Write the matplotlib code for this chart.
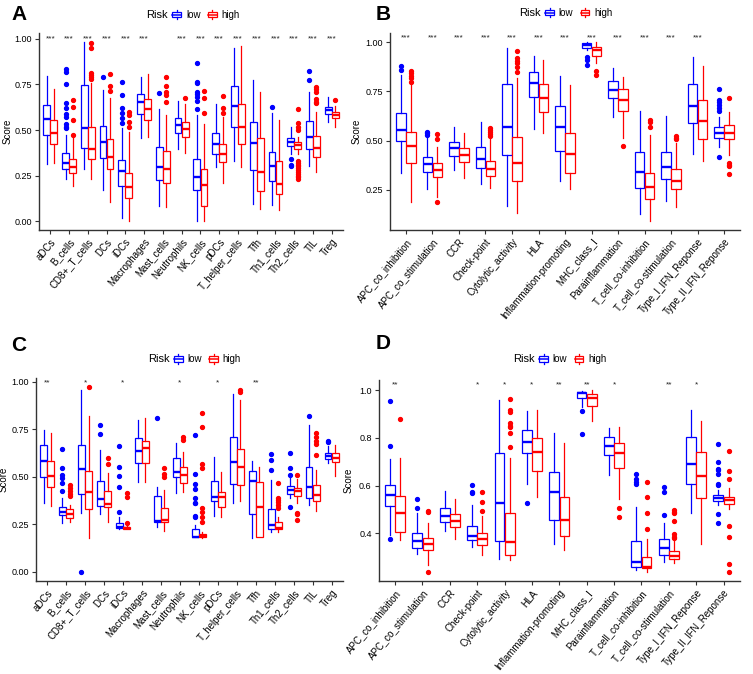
import numpy as np
import matplotlib
matplotlib.use("Agg")
import matplotlib.pyplot as plt
from matplotlib.patches import Patch, Rectangle
from matplotlib.lines import Line2D
from matplotlib.legend_handler import HandlerBase

plt.rcParams["font.family"] = ["Liberation Sans", "DejaVu Sans"]

BLUE = "#0000FF"
RED = "#FF0000"

# -----------------------------
# data: per category [whislo, q1, median, q3, whishi] + outliers
# -----------------------------
cells = ["aDCs", "B_cells", "CD8+_T_cells", "DCs", "iDCs", "Macrophages", "Mast_cells",
         "Neutrophils", "NK_cells", "pDCs", "T_helper_cells", "Tfh", "Th1_cells",
         "Th2_cells", "TIL", "Treg"]
functions = ["APC_co_inhibition", "APC_co_stimulation", "CCR", "Check-point",
             "Cytolytic_activity", "HLA", "Inflammation-promoting", "MHC_class_I",
             "Parainflammation", "T_cell_co-inhibition", "T_cell_co-stimulation",
             "Type_I_IFN_Reponse", "Type_II_IFN_Reponse"]

A_low = [
    [0.311, 0.471, 0.559, 0.640, 0.797],
    [0.233, 0.286, 0.317, 0.372, 0.473],
    [0.286, 0.403, 0.509, 0.749, 0.985],
    [0.170, 0.348, 0.436, 0.524, 0.720],
    [0.015, 0.194, 0.277, 0.335, 0.509],
    [0.458, 0.588, 0.652, 0.696, 0.793],
    [0.082, 0.225, 0.295, 0.408, 0.615],
    [0.394, 0.482, 0.526, 0.568, 0.661],
    [0.000, 0.170, 0.244, 0.339, 0.582],
    [0.299, 0.366, 0.421, 0.485, 0.641],
    [0.330, 0.515, 0.632, 0.744, 0.949],
    [0.092, 0.278, 0.430, 0.546, 0.775],
    [0.088, 0.220, 0.304, 0.381, 0.592],
    [0.368, 0.412, 0.432, 0.454, 0.518],
    [0.304, 0.396, 0.463, 0.548, 0.711],
    [0.544, 0.590, 0.610, 0.628, 0.679],
]
A_low_out = [
    [],
    [0.835, 0.817, 0.751, 0.646, 0.623, 0.590, 0.573, 0.533, 0.518, 0.509],
    [],
    [0.793],
    [0.766, 0.692, 0.623, 0.592, 0.564, 0.537],
    [],
    [0.701],
    [],
    [0.866, 0.766, 0.760, 0.710, 0.700, 0.683, 0.661, 0.614],
    [], [], [],
    [0.625],
    [0.342, 0.306, 0.300],
    [0.824, 0.775],
    [],
]
A_high = [
    [0.317, 0.425, 0.482, 0.553, 0.723],
    [0.192, 0.262, 0.297, 0.342, 0.454],
    [0.231, 0.341, 0.396, 0.515, 0.760],
    [0.106, 0.286, 0.350, 0.449, 0.674],
    [0.000, 0.125, 0.185, 0.262, 0.490],
    [0.460, 0.555, 0.614, 0.668, 0.806],
    [0.079, 0.211, 0.284, 0.386, 0.582],
    [0.372, 0.463, 0.504, 0.542, 0.641],
    [0.000, 0.082, 0.198, 0.286, 0.531],
    [0.207, 0.322, 0.366, 0.421, 0.570],
    [0.295, 0.421, 0.515, 0.641, 0.962],
    [0.064, 0.167, 0.269, 0.454, 0.711],
    [0.060, 0.147, 0.203, 0.330, 0.555],
    [0.370, 0.394, 0.416, 0.432, 0.460],
    [0.271, 0.350, 0.400, 0.467, 0.600],
    [0.515, 0.564, 0.581, 0.599, 0.632],
]
A_high_out = [
    [],
    [0.665, 0.625, 0.555, 0.473],
    [0.976, 0.949, 0.815, 0.802, 0.789, 0.780],
    [0.806, 0.742, 0.714],
    [0.597, 0.582, 0.546, 0.518],
    [],
    [0.793, 0.742, 0.710, 0.692, 0.656],
    [0.674],
    [0.714, 0.678, 0.595],
    [0.687, 0.619, 0.592],
    [], [], [],
    [0.615, 0.540, 0.518, 0.500, 0.330, 0.320, 0.310, 0.300, 0.290, 0.280,
     0.270, 0.260, 0.250, 0.240, 0.230],
    [0.734, 0.725, 0.711, 0.668, 0.656, 0.646],
    [0.665],
]
A_sig = ["***"] * 6 + [""] + ["***"] * 9

B_low = [
    [0.338, 0.499, 0.555, 0.643, 0.834],
    [0.254, 0.343, 0.382, 0.416, 0.517],
    [0.352, 0.423, 0.465, 0.495, 0.572],
    [0.279, 0.360, 0.409, 0.470, 0.597],
    [0.170, 0.426, 0.572, 0.788, 0.969],
    [0.558, 0.720, 0.795, 0.851, 0.932],
    [0.297, 0.446, 0.572, 0.677, 0.829],
    [0.960, 0.969, 0.986, 0.995, 1.000],
    [0.622, 0.715, 0.755, 0.803, 0.868],
    [0.126, 0.261, 0.339, 0.444, 0.651],
    [0.194, 0.306, 0.365, 0.441, 0.627],
    [0.433, 0.589, 0.677, 0.786, 0.927],
    [0.470, 0.516, 0.541, 0.572, 0.622],
]
B_low_out = [
    [0.881, 0.859],
    [0.546, 0.538, 0.530],
    [], [], [], [], [],
    [0.924, 0.910, 0.885],
    [], [], [], [],
    [0.763, 0.707, 0.695, 0.680, 0.665, 0.650, 0.416],
]
B_high = [
    [0.190, 0.385, 0.473, 0.546, 0.783],
    [0.215, 0.314, 0.352, 0.389, 0.470],
    [0.313, 0.394, 0.426, 0.461, 0.538],
    [0.259, 0.321, 0.357, 0.397, 0.510],
    [0.135, 0.296, 0.389, 0.517, 0.817],
    [0.538, 0.644, 0.719, 0.788, 0.910],
    [0.255, 0.338, 0.433, 0.541, 0.783],
    [0.893, 0.930, 0.958, 0.978, 1.000],
    [0.512, 0.651, 0.707, 0.761, 0.825],
    [0.092, 0.204, 0.267, 0.338, 0.529],
    [0.165, 0.253, 0.297, 0.355, 0.487],
    [0.399, 0.507, 0.602, 0.707, 0.880],
    [0.428, 0.507, 0.541, 0.580, 0.648],
]
B_high_out = [
    [0.855, 0.845, 0.830, 0.820, 0.800],
    [0.533, 0.507, 0.190],
    [],
    [0.563, 0.553, 0.545, 0.535, 0.522],
    [0.956, 0.918, 0.905, 0.893, 0.876, 0.847],
    [], [],
    [0.854, 0.834],
    [0.475],
    [0.605, 0.593, 0.568],
    [0.524, 0.515, 0.507],
    [],
    [0.719, 0.385, 0.378, 0.370, 0.331],
]
B_sig = ["***"] * 12 + [""]

C_low = [
    [0.361, 0.500, 0.583, 0.667, 0.745],
    [0.259, 0.299, 0.313, 0.340, 0.387],
    [0.311, 0.410, 0.539, 0.667, 0.956],
    [0.303, 0.347, 0.382, 0.480, 0.641],
    [0.225, 0.229, 0.238, 0.259, 0.290],
    [0.470, 0.570, 0.635, 0.702, 0.798],
    [0.238, 0.264, 0.269, 0.400, 0.444],
    [0.413, 0.500, 0.523, 0.597, 0.676],
    [0.181, 0.181, 0.185, 0.224, 0.246],
    [0.296, 0.375, 0.396, 0.480, 0.606],
    [0.364, 0.461, 0.576, 0.711, 0.935],
    [0.180, 0.303, 0.480, 0.530, 0.583],
    [0.208, 0.224, 0.246, 0.329, 0.483],
    [0.387, 0.410, 0.431, 0.449, 0.500],
    [0.352, 0.387, 0.444, 0.553, 0.772],
    [0.571, 0.592, 0.609, 0.623, 0.660],
]
C_low_out = [
    [],
    [0.644, 0.548, 0.510, 0.493, 0.467, 0.423],
    [0.0],
    [0.772, 0.723],
    [0.662, 0.553, 0.502, 0.445, 0.313],
    [],
    [0.810],
    [],
    [0.719, 0.516, 0.461, 0.435, 0.387, 0.364, 0.361, 0.294, 0.287],
    [], [], [],
    [0.619, 0.590, 0.537],
    [0.627, 0.548, 0.510, 0.340],
    [0.821],
    [0.690, 0.685],
]
C_high = [
    [0.348, 0.444, 0.502, 0.583, 0.728],
    [0.260, 0.285, 0.306, 0.329, 0.352],
    [0.176, 0.331, 0.419, 0.530, 0.819],
    [0.264, 0.340, 0.356, 0.423, 0.518],
    [0.225, 0.225, 0.232, 0.238, 0.252],
    [0.474, 0.574, 0.649, 0.690, 0.807],
    [0.215, 0.264, 0.273, 0.335, 0.428],
    [0.421, 0.465, 0.509, 0.549, 0.628],
    [0.178, 0.181, 0.188, 0.197, 0.211],
    [0.290, 0.340, 0.393, 0.419, 0.527],
    [0.373, 0.456, 0.553, 0.644, 0.903],
    [0.181, 0.181, 0.343, 0.470, 0.553],
    [0.208, 0.224, 0.232, 0.261, 0.290],
    [0.364, 0.400, 0.426, 0.440, 0.488],
    [0.322, 0.375, 0.405, 0.458, 0.536],
    [0.506, 0.576, 0.600, 0.623, 0.667],
]
C_high_out = [
    [],
    [0.458, 0.440, 0.423, 0.410, 0.400],
    [0.970],
    [0.597, 0.565],
    [0.417, 0.393, 0.259],
    [],
    [0.548, 0.514, 0.500],
    [0.707, 0.693],
    [0.838, 0.763, 0.565, 0.548, 0.335, 0.313, 0.290, 0.264],
    [],
    [0.956, 0.947],
    [],
    [0.467, 0.387, 0.376, 0.366, 0.352, 0.338],
    [0.507, 0.312, 0.303, 0.273],
    [0.730, 0.710, 0.690, 0.670, 0.614],
    [],
]
C_sig = ["**", "", "*", "", "*", "", "", "*", "", "*", "", "**", "", "", "", ""]

D_low = [
    [0.393, 0.516, 0.561, 0.605, 0.711],
    [0.314, 0.338, 0.370, 0.400, 0.487],
    [0.411, 0.446, 0.474, 0.505, 0.577],
    [0.342, 0.372, 0.390, 0.432, 0.519],
    [0.293, 0.370, 0.529, 0.739, 0.958],
    [0.607, 0.735, 0.781, 0.833, 0.912],
    [0.354, 0.456, 0.572, 0.658, 0.819],
    [0.930, 0.969, 0.989, 0.993, 0.996],
    [0.644, 0.728, 0.766, 0.805, 0.842],
    [0.247, 0.258, 0.282, 0.368, 0.512],
    [0.279, 0.310, 0.338, 0.375, 0.442],
    [0.484, 0.607, 0.690, 0.805, 0.916],
    [0.519, 0.537, 0.550, 0.561, 0.582],
]
D_low_out = [
    [0.954, 0.766, 0.377],
    [0.544, 0.505],
    [],
    [0.605, 0.575, 0.570],
    [],
    [0.526],
    [],
    [0.912, 0.815],
    [],
    [0.651, 0.626, 0.616, 0.607],
    [0.596, 0.575, 0.477],
    [],
    [0.774, 0.700, 0.672, 0.665, 0.651, 0.609, 0.603, 0.481, 0.442],
]
D_high = [
    [0.372, 0.407, 0.484, 0.558, 0.714],
    [0.270, 0.331, 0.354, 0.382, 0.442],
    [0.377, 0.428, 0.453, 0.481, 0.543],
    [0.310, 0.350, 0.375, 0.400, 0.473],
    [0.289, 0.310, 0.363, 0.484, 0.718],
    [0.554, 0.662, 0.742, 0.800, 0.919],
    [0.331, 0.390, 0.456, 0.554, 0.777],
    [0.872, 0.933, 0.969, 0.986, 1.000],
    [0.543, 0.676, 0.739, 0.780, 0.847],
    [0.240, 0.257, 0.261, 0.303, 0.375],
    [0.278, 0.293, 0.307, 0.328, 0.372],
    [0.354, 0.550, 0.642, 0.742, 0.872],
    [0.502, 0.523, 0.540, 0.554, 0.591],
]
D_high_out = [
    [0.881],
    [0.495, 0.488, 0.240],
    [],
    [0.575, 0.530, 0.495],
    [0.961, 0.918, 0.907, 0.862, 0.852, 0.844, 0.819, 0.760],
    [], [], [],
    [0.505, 0.467],
    [0.614, 0.551, 0.487, 0.420],
    [0.498, 0.491, 0.484, 0.453, 0.396, 0.386, 0.379],
    [],
    [0.746, 0.662, 0.628, 0.431, 0.384, 0.272, 0.240],
]
D_sig = ["**", "", "", "*", "*", "*", "**", "**", "*", "", "**", "*", ""]


# -----------------------------
# helpers
# -----------------------------
class BoxKey(HandlerBase):
    # ggplot-like boxplot legend key
    def create_artists(self, legend, orig_handle, xdescent, ydescent,
                       width, height, fontsize, trans):
        c = orig_handle.get_edgecolor()
        x0, y0 = -xdescent, -ydescent
        box = Rectangle((x0 + 0.05 * width, y0 + 0.2 * height), 0.9 * width, 0.6 * height,
                        facecolor="white", edgecolor=c, lw=0.9, transform=trans)
        med = Line2D([x0 + 0.05 * width, x0 + 0.95 * width], [y0 + 0.5 * height] * 2,
                     color=c, lw=1.1, transform=trans)
        w1 = Line2D([x0 + 0.5 * width] * 2, [y0 - 0.05 * height, y0 + 0.2 * height],
                    color=c, lw=0.9, transform=trans)
        w2 = Line2D([x0 + 0.5 * width] * 2, [y0 + 0.8 * height, y0 + 1.05 * height],
                    color=c, lw=0.9, transform=trans)
        return [box, med, w1, w2]


def draw_panel(ax, cats, low, low_out, high, high_out, sig, ylim, yticks, yfmt, star_y, ylab_x):
    pos = np.arange(len(cats))
    for stats, outs, col, off in [(low, low_out, BLUE, -0.1875), (high, high_out, RED, 0.1875)]:
        bxp_stats = [dict(whislo=s[0], q1=s[1], med=s[2], q3=s[3], whishi=s[4], fliers=o)
                     for s, o in zip(stats, outs)]
        ax.bxp(bxp_stats, positions=pos + off, widths=0.36, showcaps=False,
               patch_artist=True, manage_ticks=False,
               boxprops=dict(facecolor="white", edgecolor=col, linewidth=0.9),
               whiskerprops=dict(color=col, linewidth=0.9),
               medianprops=dict(color=col, linewidth=1.7),
               flierprops=dict(marker="o", markerfacecolor=col, markeredgecolor=col,
                               markersize=2.8, linestyle="none"))
    for p, s in zip(pos, sig):
        if s:
            ax.text(p, star_y, s, ha="center", va="center", fontsize=6, color="#222222")
    ax.set_xlim(-0.6, len(cats) - 0.4)
    ax.set_ylim(*ylim)
    ax.set_yticks(yticks)
    ax.set_yticklabels([yfmt.format(v) for v in yticks])
    ax.set_xticks(pos)
    ax.set_xticklabels(cats, rotation=50, ha="right", rotation_mode="anchor")
    ax.set_ylabel("Score", fontsize=7)
    ax.yaxis.set_label_coords(ylab_x, 0.5)
    ax.tick_params(axis="both", labelsize=6.5, length=3, width=0.8, colors="#333333",
                   labelcolor="black", pad=2)
    ax.tick_params(axis="x", labelsize=7)
    for side in ["top", "right"]:
        ax.spines[side].set_visible(False)
    for side in ["left", "bottom"]:
        ax.spines[side].set_linewidth(1.0)
        ax.spines[side].set_color("#333333")


def add_legend(fig, x_keys, y):
    fig.text(x_keys - 0.005, y, "Risk", ha="right", va="center", fontsize=8)
    handles = [Patch(facecolor="white", edgecolor=BLUE), Patch(facecolor="white", edgecolor=RED)]
    fig.legend(handles, ["low", "high"], loc="center left", bbox_to_anchor=(x_keys, y),
               ncol=2, frameon=False, fontsize=7, handlelength=1.0, handleheight=1.0,
               handletextpad=0.45, columnspacing=0.7, borderpad=0, borderaxespad=0,
               handler_map={Patch: BoxKey()})


# -----------------------------
# figure
# -----------------------------
fig = plt.figure(figsize=(7.53, 6.74), dpi=100)

axA = fig.add_axes([0.0518, 0.6588, 0.4037, 0.2923])
axB = fig.add_axes([0.518, 0.6588, 0.4647, 0.2923])
axC = fig.add_axes([0.0474, 0.138, 0.4081, 0.301])
axD = fig.add_axes([0.5029, 0.138, 0.4798, 0.298])

q = [0.0, 0.25, 0.5, 0.75, 1.0]
draw_panel(axA, cells, A_low, A_low_out, A_high, A_high_out, A_sig,
           (-0.049, 1.033), q, "{:.2f}", 1.0, -0.088)
draw_panel(axB, functions, B_low, B_low_out, B_high, B_high_out, B_sig,
           (0.047, 1.047), q[1:], "{:.2f}", 1.023, -0.08)
draw_panel(axC, cells, C_low, C_low_out, C_high, C_high_out, C_sig,
           (-0.048, 1.019), q, "{:.2f}", 0.996, -0.088)
draw_panel(axD, functions, D_low, D_low_out, D_high, D_high_out, D_sig,
           (0.201, 1.042), [0.4, 0.6, 0.8, 1.0], "{:.1f}", 1.024, -0.07)

add_legend(fig, 0.2284, 0.9777)
add_legend(fig, 0.7233, 0.9807)
add_legend(fig, 0.2302, 0.4669)
add_legend(fig, 0.7154, 0.4669)

for x, y, lab in [(0.015, 0.978, "A"), (0.499, 0.979, "B"),
                  (0.015, 0.488, "C"), (0.499, 0.490, "D")]:
    fig.text(x, y, lab, fontsize=15, fontweight="bold", ha="left", va="center")

fig.savefig("out.png", dpi=100)
plt.close(fig)
